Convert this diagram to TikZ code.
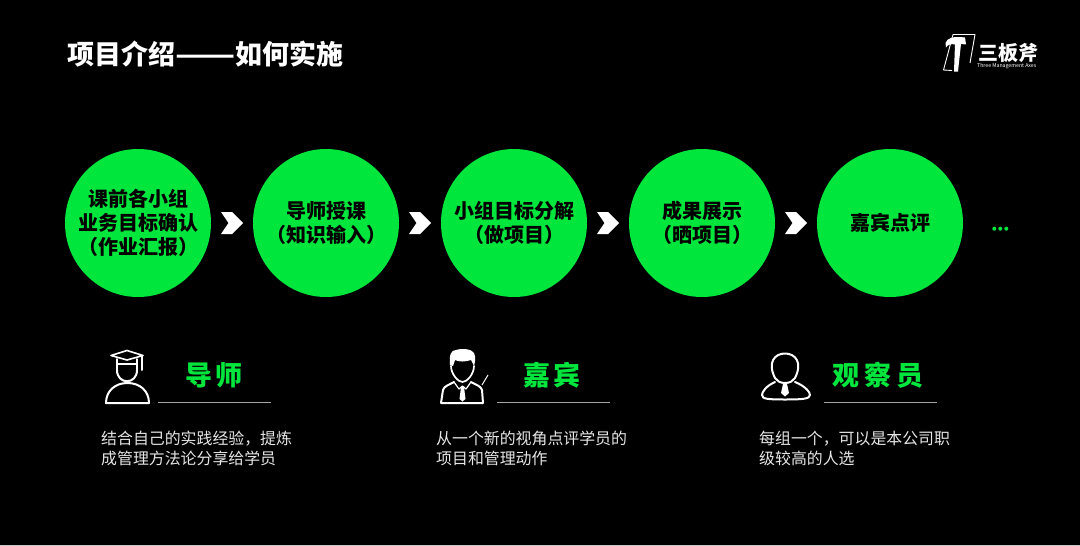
\documentclass[tikz,border=0pt]{standalone}
\usepackage{fontspec}
\usetikzlibrary{shapes.geometric}
\setmainfont{Noto Sans CJK SC}
\definecolor{brandgreen}{HTML}{00E63C}
\definecolor{rulegray}{HTML}{A6A6A6}
\definecolor{bodygray}{HTML}{E6E6E6}
\definecolor{edgegray}{HTML}{C8C8C8}
\tikzset{
  stage/.style={ellipse,fill=brandgreen,minimum width=146pt,minimum height=148pt,inner sep=-30pt,align=center,text=black,font=\bfseries\fontsize{20}{24.2}\selectfont},
  rolelabel/.style={text=brandgreen,font=\bfseries\fontsize{27}{30}\selectfont,inner sep=0pt},
  desc/.style={text=bodygray,font=\fontsize{15.9}{19.5}\selectfont,align=left,anchor=north west,inner sep=0pt},
  roleline/.style={rulegray,line width=1pt},
  icon/.style={white,line width=2pt,line join=round,line cap=round},
  chev/.pic={\fill[white] (-11,-11) -- (0,-11) -- (11,0) -- (0,11) -- (-11,11) -- (-3.5,0) -- cycle;}
}
\begin{document}
\begin{tikzpicture}[x=1pt,y=-1pt]
\fill[black] (0,0) rectangle (1080,546);
\fill[edgegray] (0,545) rectangle (1080,546);
\useasboundingbox (0,0) rectangle (1080,546);
\node[anchor=west,text=white,font=\bfseries\fontsize{27}{30}\selectfont,inner sep=0pt] (title) at (67,54) {项目介绍\scalebox{1.3}[1]{——}如何实施};

\node[stage] (s1) at (138,223) {课前各小组\\业务目标确认\\（作业汇报）};
\node[stage] (s2) at (326,223) {导师授课\\（知识输入）};
\node[stage] (s3) at (514,223) {小组目标分解\\（做项目）};
\node[stage] (s4) at (702,223) {成果展示\\（晒项目）};
\node[stage] (s5) at (890,223) {嘉宾点评};
\path (232,223) pic {chev} (420,223) pic {chev} (608,223) pic {chev} (796,223) pic {chev};
\foreach \x in {994.3,1000.3,1006.3} \fill[brandgreen] (\x,228.7) circle (2);

% logo
\draw[white,line width=0.9pt,line join=round] (953,34.5) -- (975,34.5) -- (970,63);
\draw[white,line width=0.9pt,line join=round] (953,34.5) -- (943.5,70) -- (952,70.5);
\fill[white] (945.5,43) .. controls (947,38) and (953,36) .. (965,37.5) -- (966,44.5) -- (961,44) -- (958,71.5) -- (954,71.5) -- (955,44.5) .. controls (951,43.5) and (948,44.5) .. (946,47.5) -- cycle;
\node[text=white,font=\bfseries\fontsize{20}{20}\selectfont,inner sep=0pt,anchor=west] (logo) at (978,52.5) {三板斧};
\node[text=white,font=\fontsize{5.2}{6}\selectfont,inner sep=0pt,anchor=west] (logotag) at (977,66) {Three Management Axes};

% mentor icon
\draw[icon,line width=1.6pt,fill=black] (111,355.5) -- (127,350.5) -- (143,355.5) -- (127,360) -- cycle;
\draw[icon] (117,359) -- (117,370) (137,359) -- (137,370);
\draw[icon] (142,356) -- (142,370);
\draw[icon] (117,370) .. controls (117,385) and (137,385) .. (137,370);
\draw[icon] (117,364) -- (137,364);
\draw[icon] (106,403) .. controls (106,391) and (115,383) .. (127.5,383) .. controls (140,383) and (149,391) .. (149,403) -- cycle;
\node[rolelabel] (r1) at (214,375) {导\hspace{3pt}师};
\draw[roleline] (158,402.5) -- (271,402.5);
\node[desc] (d1) at (101,431) {结合自己的实践经验，提炼\\成管理方法论分享给学员};

% guest icon
\fill[white] (450,365) .. controls (449,355) and (451,350) .. (456,350) .. controls (462,348) and (472,349) .. (474,353) .. controls (476,357) and (475,362) .. (474,366) -- (471,360) .. controls (465,362) and (459,362) .. (455,360) -- (453,366) -- cycle;
\draw[icon,line width=1.7pt] (451,366) .. controls (451,374) and (458,382) .. (462.5,382) .. controls (467,382) and (474,374) .. (474,366);
\draw[icon,line width=2pt] (441,403) -- (483,403) (441,403) -- (443,390) .. controls (444,386) and (449,385) .. (454,382) (483,403) -- (482,390) .. controls (481,386) and (476,385) .. (471,382);
\draw[icon,line width=1.2pt] (454,382) -- (459,389) -- (462.5,386) -- (466,389) -- (471,382);
\draw[white,line width=1pt] (482,385) -- (488,375);
\fill[white] (461,387) -- (464,387) -- (465.5,399) -- (462.5,401.5) -- (459.5,399) -- cycle;
\node[rolelabel] (r2) at (552,375) {嘉\hspace{3pt}宾};
\draw[roleline] (497,402.5) -- (610,402.5);
\node[desc] (d2) at (436,431) {从一个新的视角点评学员的\\项目和管理动作};

% observer icon
\draw[icon] (775,378) .. controls (767,362) and (775,353.5) .. (785,353.5) .. controls (795,353.5) and (803,362) .. (795,378) .. controls (793,381) and (790,383) .. (785,383) .. controls (780,383) and (777,381) .. (775,378) -- cycle;
\draw[icon] (775,382) .. controls (766,386) and (762,392) .. (762,395) .. controls (762,399) and (768,399.5) .. (785,399.5) .. controls (802,399.5) and (810,399) .. (810,395) .. controls (810,392) and (805,386) .. (795,382);
\fill[white] (783,384) -- (787,384) -- (789,393) -- (785,396.5) -- (781,393) -- cycle;
\node[rolelabel] (r3) at (878,375) {观\hspace{5pt}察\hspace{5pt}员};
\draw[roleline] (824,402.5) -- (937,402.5);
\node[desc] (d3) at (759,431) {每组一个，可以是本公司职\\级较高的人选};
\end{tikzpicture}
\end{document}
